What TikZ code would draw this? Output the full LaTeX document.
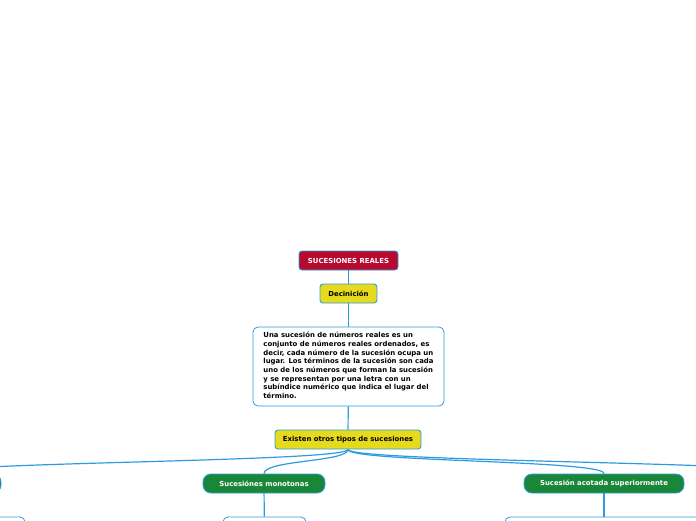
\documentclass[tikz,border=0pt]{standalone}
\usepackage{fontspec}
\setmainfont{DejaVu Sans}
\usetikzlibrary{positioning}
\definecolor{mapred}   {RGB}{182,10,46}
\definecolor{mapyellow}{RGB}{230,218,30}
\definecolor{mapgreen} {RGB}{26,135,56}
\definecolor{mapblue}  {RGB}{45,155,225}
\tikzset{
  topic/.style={rectangle,rounded corners=3pt,draw=mapblue,line width=0.9pt,
                fill=#1,text=black,minimum height=19pt,inner sep=1pt,
                font=\fontsize{6.9}{8}\selectfont\bfseries,align=center},
  topic/.default=mapyellow,
  branch/.style={rectangle,rounded corners=8pt,draw=mapblue,line width=0.9pt,
                 fill=mapgreen,text=white,minimum height=19pt,inner sep=1pt,
                 font=\fontsize{6.9}{8}\selectfont\bfseries,align=center},
  note/.style={rectangle,rounded corners=5pt,draw=mapblue,line width=0.8pt,
               fill=white,text=black,inner sep=0pt,
               font=\fontsize{6.9}{8.7}\selectfont\bfseries,align=left},
  link/.style={draw=mapblue,line width=1.2pt},
}
\begin{document}
\begin{tikzpicture}[x=1pt,y=-1pt]
  \useasboundingbox (0,0) rectangle (696,520);
  \clip (0,0) rectangle (696,520);
  % main column
  \node[topic=mapred,text=white,minimum width=99pt] (root) at (348.5,260.5) {SUCESIONES REALES};
  \node[topic,minimum width=57pt] (def) at (348.5,293.5) {Decinición};
  \node[note,minimum width=191pt,minimum height=79pt] (deftext) at (348.5,366.5)
    {\begin{tabular}{@{}l@{}}Una sucesión de números reales es un\\
     conjunto de números reales ordenados, es\\
     decir, cada número de la sucesión ocupa un\\
     lugar. Los términos de la sucesión son cada\\
     uno de los números que forman la sucesión\\
     y se representan por una letra con un\\
     subíndice numérico que indica el lugar del\\
     término.\end{tabular}};
  \node[topic,minimum width=146pt] (types) at (348,439.5) {Existen otros tipos de sucesiones};
  % branches
  \node[branch,minimum width=140pt] (leftkind) at (-69,483.5) {};
  \node[branch,minimum width=122pt] (mono) at (264,483.5) {Sucesiónes monotonas};
  \node[branch,minimum width=160pt] (upper) at (604,483.5) {Sucesión acotada superiormente};
  \coordinate (farright) at (800,474);
  % notes below the branches
  \node[note,minimum width=120pt,minimum height=60pt] (leftnote) at (-35,547) {};
  \node[note,minimum width=83pt,minimum height=60pt] (mononote) at (264.5,547) {};
  \node[note,minimum width=198pt,minimum height=60pt] (uppernote) at (604,547) {};
  % connectors
  \draw[link] (root) -- (def);
  \draw[link] (def) -- (deftext);
  \draw[link] (deftext) -- (types);
  \draw[link] (types.south) .. controls (348,462) and (-69,462) .. (leftkind.north);
  \draw[link] (types.south) .. controls (348,462) and (264,460) .. (mono.north);
  \draw[link] (types.south) .. controls (348,462) and (604,460) .. (upper.north);
  \draw[link] (types.south) .. controls (348,462) and (800,462) .. (farright);
  \draw[link] (mono) -- (mononote);
  \draw[link] (upper) -- (uppernote);
\end{tikzpicture}
\end{document}
